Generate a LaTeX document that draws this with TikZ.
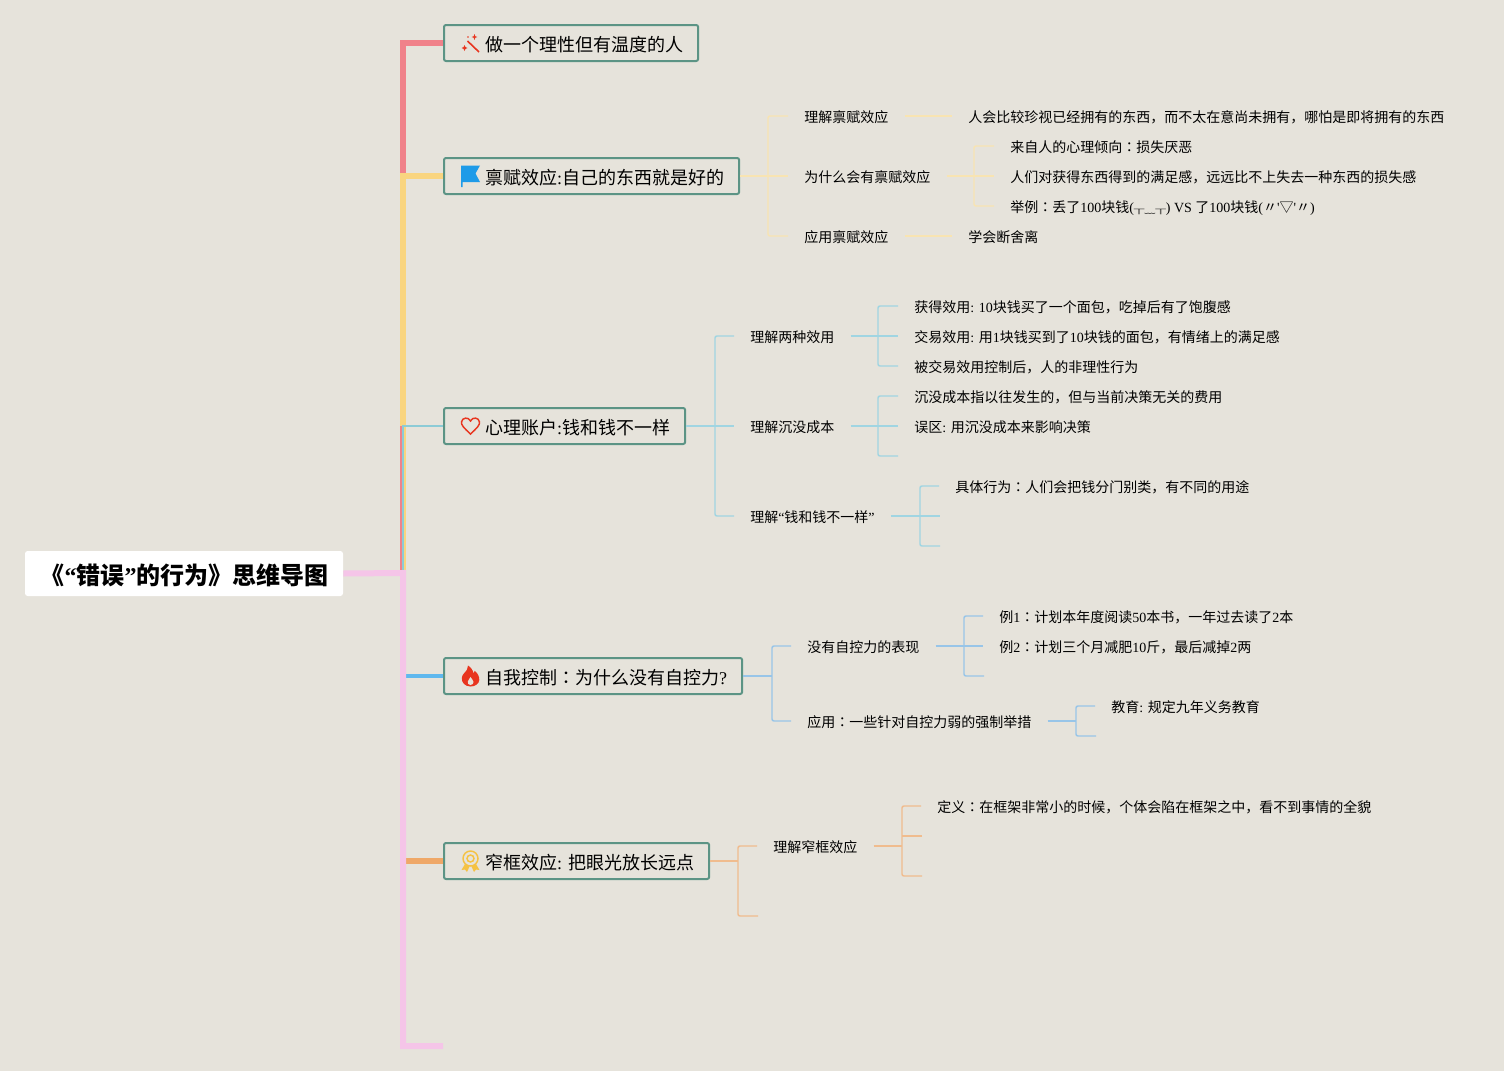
\documentclass[tikz,border=0pt]{standalone}
\usepackage{fontspec}
\setmainfont{Noto Sans CJK SC}
\newfontfamily\latin{Liberation Serif}
\newfontfamily\cjktc{Noto Sans CJK TC}
\newcommand{\en}[1]{{\latin #1}}
\newcommand{\zc}{{\cjktc ：}}
\newcommand{\lowface}[1]{\raisebox{-1pt}{\fontsize{8}{8}\selectfont #1}}
\definecolor{paper}{HTML}{E6E3DB}
\definecolor{boxline}{HTML}{5C9485}
\definecolor{redline}{HTML}{F0828A}
\definecolor{yellowline}{HTML}{F9D580}
\definecolor{pinkline}{HTML}{F5C5E8}
\definecolor{tealline}{HTML}{8CCBD6}
\definecolor{blueline}{HTML}{5FB8EE}
\definecolor{orangeline}{HTML}{EFA868}
\definecolor{yellowtwig}{HTML}{F8E4B2}
\definecolor{tealtwig}{HTML}{A0D5E2}
\definecolor{bluetwig}{HTML}{98C5E8}
\definecolor{orangetwig}{HTML}{F0BC8E}
\definecolor{iconred}{HTML}{E8351F}
\definecolor{iconblue}{HTML}{1E9BE8}
\definecolor{iconyellow}{HTML}{F5C243}
\tikzset{
  stem/.style={line width=4.5pt},
  twig/.style={line width=1.1pt, rounded corners=1.5pt},
  lead/.style={line width=1.4pt},
  rootbox/.style={fill=white, rounded corners=2pt, minimum width=238.5pt, minimum height=33.75pt,
    inner sep=0pt, text height=15.9pt, text depth=0pt, font=\fontsize{18}{20}\selectfont\bfseries},
  topic/.style={anchor=west, draw=boxline, line width=1.5pt, fill=paper, rounded corners=1.5pt,
    inner xsep=11.25pt, inner ysep=0pt, minimum height=27pt, text height=13.3pt, text depth=0pt,
    font=\fontsize{13.5}{16}\selectfont},
  leaf/.style={anchor=west, inner xsep=12pt, inner ysep=0pt, text height=10pt, text depth=.5pt,
    font=\fontsize{10.5}{12}\selectfont}
}
\begin{document}
\begin{tikzpicture}[x=.75pt,y=-.75pt]
  \useasboundingbox (0,0) rectangle (1504,1071);
  \fill[paper] (0,0) rectangle (1504,1071);

  \node[rootbox] (root) at (184,573.5) {\hspace*{1pt}《\en{“}错误\en{”}的行为》思维导图};
  \node[topic] (t1) at (443,43) {\hspace*{19.6pt}做一个理性但有温度的人};
  \node[topic] (t2) at (443,176) {\hspace*{19.6pt}禀赋效应\en{:}自己的东西就是好的};
  \node[topic] (t3) at (443,426) {\hspace*{19.6pt}心理账户\en{:}钱和钱不一样};
  \node[topic] (t4) at (443,676) {\hspace*{19.6pt}自我控制\zc 为什么没有自控力\en{?}};
  \node[topic] (t5) at (443,861) {\hspace*{19.6pt}窄框效应\en{: }把眼光放长远点};

  \coordinate (jroot) at (403,573);
  \coordinate (jteal) at (403,426);
  \coordinate (jlow) at (404,570);
  \coordinate (jlowtop) at (404,424);
  \coordinate (tend) at (443,1046);

  % main stems, later ones lie on top
  \draw[stem,redline] (jroot) |- (t1.west);
  \draw[stem,yellowline] (jteal) |- (t2.west);
  \draw[line width=3pt,yellowline] (jlowtop) -- (jlow);
  \draw[line width=1.8pt,tealline] (jlow -| jteal) |- (t3.west);
  \draw[line width=3pt,blueline] (t4.west) -- (t4.west -| jroot);
  \draw[stem,orangeline] (t5.west) -- (t5.west -| jroot);
  \draw[stem,pinkline] (root.east) -- (jroot) |- (tend);

  % t2
  \node[leaf] (b21) at (788,116) {理解禀赋效应};
  \node[leaf] (b22) at (788,176) {为什么会有禀赋效应};
  \node[leaf] (b23) at (788,236) {应用禀赋效应};
  \node[leaf] (c21) at (952,116) {人会比较珍视已经拥有的东西，而不太在意尚未拥有，哪怕是即将拥有的东西};
  \node[leaf] (c23) at (952,236) {学会断舍离};
  \node[leaf] (d1) at (994,146) {来自人的心理倾向\zc 损失厌恶};
  \node[leaf] (d2) at (994,176) {人们对获得东西得到的满足感，远远比不上失去一种东西的损失感};
  \node[leaf] (d3) at (994,206) {举例\zc 丢了\en{100}块钱\en{(}\lowface{╥﹏╥}\en{) VS }了\en{100}块钱\en{(}〃\en{'}▽\en{'}〃\en{)}};
  \begin{scope}[yellowtwig]
    \draw[twig] (b21.west) -- ++(-20,0) |- (b23.west);
    \draw[twig] (t2.east) -- (b22.west);
    \draw[twig] (b21.east) -- (c21.west);
    \draw[twig] (b23.east) -- (c23.west);
    \draw[twig] (d1.west) -- ++(-20,0) |- (d3.west);
    \draw[lead] (b22.east) -- (d2.west);
  \end{scope}

  % t3
  \node[leaf] (b31) at (734,336) {理解两种效用};
  \node[leaf] (b32) at (734,426) {理解沉没成本};
  \node[leaf] (b33) at (734,516) {理解\en{“}钱和钱不一样\en{”}};
  \node[leaf] (e1) at (898,306) {获得效用\en{: 10}块钱买了一个面包，吃掉后有了饱腹感};
  \node[leaf] (e2) at (898,336) {交易效用\en{: }用\en{1}块钱买到了\en{10}块钱的面包，有情绪上的满足感};
  \node[leaf] (e3) at (898,366) {被交易效用控制后，人的非理性行为};
  \node[leaf] (f1) at (898,396) {沉没成本指以往发生的，但与当前决策无关的费用};
  \node[leaf] (f2) at (898,426) {误区\en{: }用沉没成本来影响决策};
  \coordinate (f3) at (898,456);
  \node[leaf] (g1) at (939,486) {具体行为\zc 人们会把钱分门别类，有不同的用途};
  \coordinate (g2) at (940,516);
  \coordinate (g3) at (940,546);
  \begin{scope}[tealtwig]
    \draw[twig] (b31.west) -- ++(-19,0) |- (b33.west);
    \draw[twig] (t3.east) -- (b32.west);
    \draw[twig] (e1.west) -- ++(-20,0) |- (e3.west);
    \draw[lead] (b31.east) -- (e2.west);
    \draw[twig] (f1.west) -- ++(-20,0) |- (f3);
    \draw[lead] (b32.east) -- (f2.west);
    \draw[twig] (g1.west) -- ++(-19,0) |- (g3);
    \draw[lead] (b33.east) -- (g2);
  \end{scope}

  % t4
  \node[leaf] (b41) at (791,646) {没有自控力的表现};
  \node[leaf] (b42) at (791,721) {应用\zc 一些针对自控力弱的强制举措};
  \node[leaf] (h1) at (983,616) {例\en{1}\zc 计划本年度阅读\en{50}本书，一年过去读了\en{2}本};
  \node[leaf] (h2) at (983,646) {例\en{2}\zc 计划三个月减肥\en{10}斤，最后减掉\en{2}两};
  \coordinate (h3) at (984,676);
  \node[leaf] (k1) at (1095,706) {教育\en{: }规定九年义务教育};
  \coordinate (k2) at (1096,736);
  \coordinate (j4) at (772,676);
  \coordinate (j42) at (1076,721);
  \begin{scope}[bluetwig]
    \draw[twig] (b41.west) -- ++(-19,0) |- (b42.west);
    \draw[twig] (t4.east) -- (j4);
    \draw[twig] (h1.west) -- ++(-19,0) |- (h3);
    \draw[lead] (b41.east) -- (h2.west);
    \draw[twig] (k1.west) -- ++(-19,0) |- (k2);
    \draw[lead] (b42.east) -- (j42);
  \end{scope}

  % t5
  \node[leaf] (b51) at (757,846) {理解窄框效应};
  \coordinate (b52) at (758,916);
  \node[leaf] (m1) at (921,806) {定义\zc 在框架非常小的时候，个体会陷在框架之中，看不到事情的全貌};
  \coordinate (m2) at (922,836);
  \coordinate (m3) at (922,876);
  \coordinate (j5) at (738,861);
  \coordinate (j52) at (902,846);
  \begin{scope}[orangetwig]
    \draw[twig] (b51.west) -- ++(-19,0) |- (b52);
    \draw[twig] (t5.east) -- (j5);
    \draw[twig] (m1.west) -- ++(-19,0) |- (m3);
    \draw[twig] (m2) -- (m2 -| j52);
    \draw[lead] (b51.east) -- (j52);
  \end{scope}

  % icons
  \draw[iconred,line width=1.2pt] (467.5,41) -- (479,52);
  \fill[iconred] (474.5,34) -- (475.3,36.2) -- (477.3,37) -- (475.3,37.8) -- (474.5,40) -- (473.7,37.8) -- (471.7,37) -- (473.7,36.2) -- cycle;
  \fill[iconred] (464.5,45) -- (465.4,47.1) -- (467.5,48) -- (465.4,48.9) -- (464.5,51) -- (463.6,48.9) -- (461.5,48) -- (463.6,47.1) -- cycle;
  \fill[iconred] (468,37) circle (.8);

  \fill[iconblue] (461,165.5) -- (480,165.5) -- (475.5,173.5) -- (480,182) -- (462.5,182) -- (462.5,187) -- (461,187) -- cycle;

  \draw[iconred,line width=1.1pt] (470.5,434) .. controls (464,428) and (461,425) .. (461.5,422)
    .. controls (462,417.5) and (468.5,416.5) .. (470.5,421) .. controls (472.5,416.5) and (479,417.5) .. (479.5,422)
    .. controls (480,425) and (477,428) .. (470.5,434) -- cycle;

  \fill[iconred] (470.5,686.5) .. controls (465,686.5) and (461.5,682.5) .. (461.8,678)
    .. controls (462,674) and (466,672) .. (467,669.5) .. controls (467.8,668) and (468,667) .. (468,665.5)
    .. controls (470.5,667) and (473,670) .. (473.5,673.5) .. controls (474.2,672.8) and (474.6,672) .. (474.8,670.8)
    .. controls (477.5,673) and (479.5,676.5) .. (479.3,680) .. controls (479,684) and (475,686.5) .. (470.5,686.5) -- cycle;
  \fill[paper] (470.5,685) .. controls (468.5,685) and (467.5,683.5) .. (467.8,681.5) .. controls (468,680) and (469.8,679) .. (470.5,677)
    .. controls (471.5,679) and (473.3,680) .. (473.5,682) .. controls (473.5,683.5) and (472.3,685) .. (470.5,685) -- cycle;

  \draw[iconyellow,line width=1.1pt] (470.5,858.5) circle (7.5);
  \draw[iconyellow,line width=1.1pt] (470.5,858.5) circle (3.5);
  \fill[iconyellow] (465,864) -- (461.5,870) -- (465,869.5) -- (467,872) -- (469.5,866.5) -- cycle;
  \fill[iconyellow] (476,864) -- (479.5,870) -- (476,869.5) -- (474,872) -- (471.5,866.5) -- cycle;
\end{tikzpicture}
\end{document}
